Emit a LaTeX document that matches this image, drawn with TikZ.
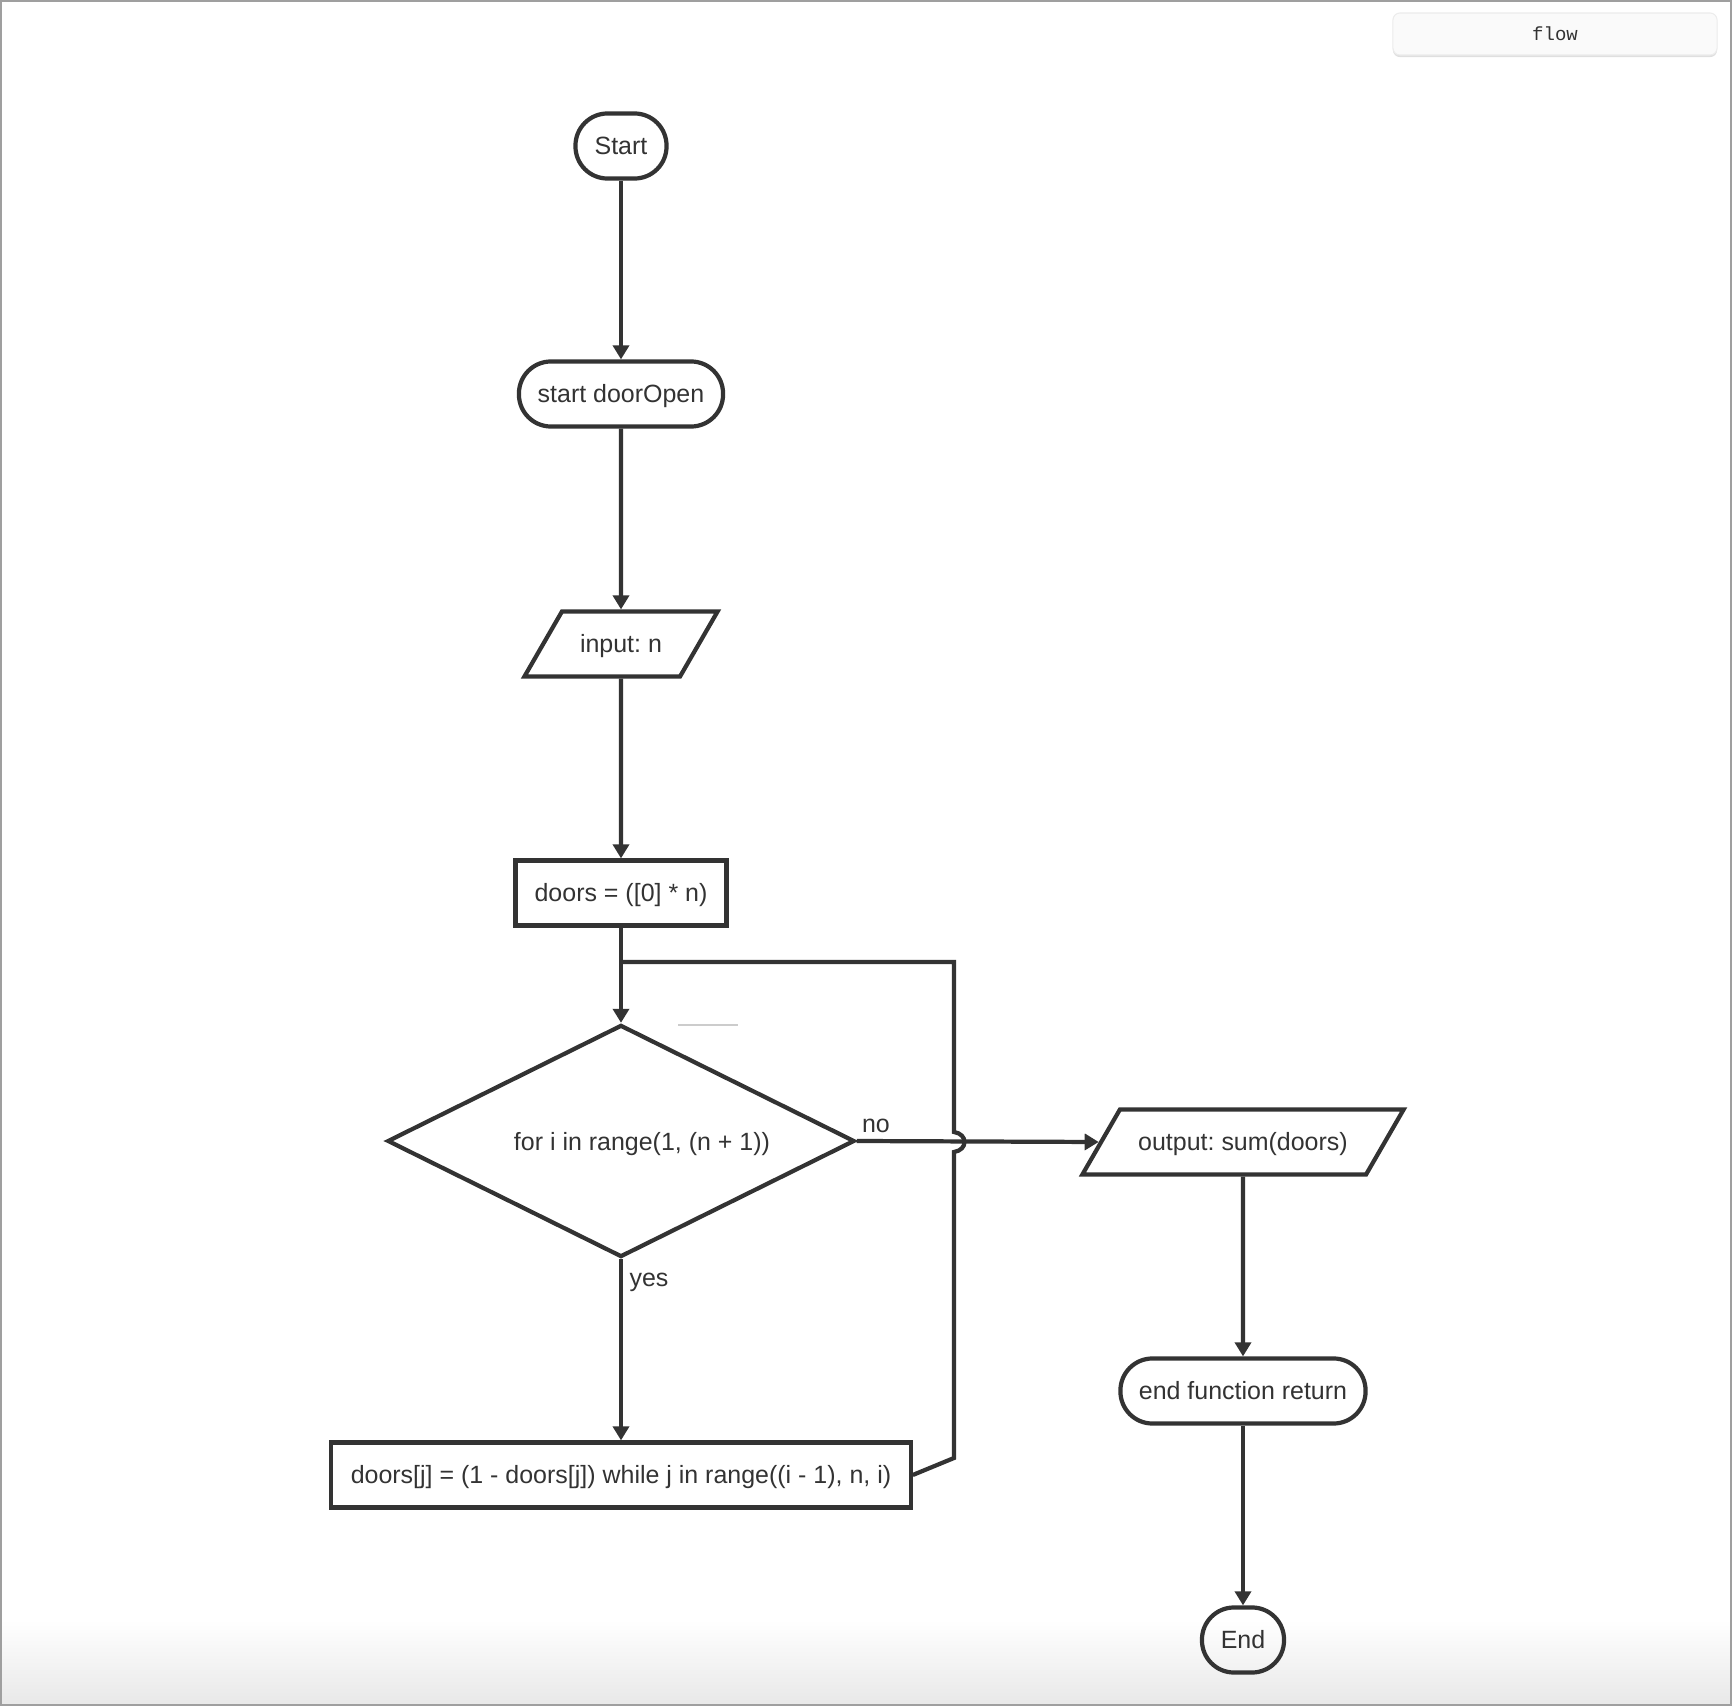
\documentclass[tikz,border=0pt]{standalone}
\usepackage{fontspec}
\setmainfont{Liberation Sans}
\setmonofont{Liberation Mono}
\usetikzlibrary{arrows.meta,shapes.geometric,shadows}
\frenchspacing
\definecolor{ink}{HTML}{333333}
\tikzset{
  every node/.style={text=ink, font=\fontsize{7.1pt}{8.5pt}\selectfont,
    text height=5.1pt, text depth=0pt},
  box/.style={draw=ink, line width=1.2pt, rectangle, minimum height=0.65cm, inner sep=0},
  term/.style={box, rounded corners=0.32cm},
  io/.style={draw=ink, line width=1.2pt, trapezium, trapezium left angle=60,
    trapezium right angle=120, trapezium stretches body, inner xsep=0, inner ysep=0.235cm},
  cond/.style={draw=ink, line width=1.2pt, diamond, shape aspect=2, minimum width=4.67cm,
    minimum height=2.32cm, inner sep=0},
  flowline/.style={draw=ink, line width=1.2pt, -{Triangle[length=0.14cm,width=0.16cm]}},
  btn/.style={rectangle, rounded corners=2pt, fill=gray!4, draw=gray!15, line width=0.3pt,
    minimum width=3.24cm, minimum height=0.42cm, inner sep=0, text height=3.9pt,
    drop shadow={shadow xshift=0pt, shadow yshift=-0.6pt, opacity=0.25},
    font=\ttfamily\fontsize{5.4pt}{6pt}\selectfont}
}
\begin{document}
\begin{tikzpicture}[x=0.01cm, y=-0.01cm]
  \useasboundingbox (0,0) rectangle (1732,1706);
  \shade[top color=white, bottom color=gray!18] (1,1620) rectangle (1731,1705);
  \draw[gray!75, line width=0.45pt] (1,1) rectangle (1731,1705);

  \node[btn] (tab) at (1555,34) {flow};

  \node[term, minimum width=0.91cm] (start) at (621,146) {Start};
  \node[term, minimum width=2.04cm] (open) at (621,394) {start doorOpen};
  \node[io, minimum width=1.93cm] (inp) at (621,644) {input: n};
  \node[box, minimum width=2.11cm] (init) at (621,893) {doors = ([0] * n)};
  \node[cond] (loop) at (621,1141) {};
  \node (looptxt) at (642,1142) {for i in range(1, (n + 1))};
  \node[box, minimum width=5.79cm] (body) at (621,1475) {doors[j] = (1 - doors[j]) while j in range((i - 1), n, i)};
  \node[io, minimum width=3.21cm] (outp) at (1243,1142) {output: sum(doors)};
  \node[term, minimum width=2.45cm] (ret) at (1243,1391) {end function return};
  \node[term, minimum width=0.82cm] (stop) at (1243,1640) {End};

  \node (nolbl) at (876,1124) {no};
  \node (yeslbl) at (649,1278) {yes};
  \draw[gray!40, line width=0.4pt] (678,1025) -- (738,1025);

  \draw[flowline] (start) -- (open);
  \draw[flowline] (open) -- (inp);
  \draw[flowline] (inp) -- (init);
  \draw[flowline] (init) -- (loop);
  \draw[flowline] (loop) -- (body);
  \draw[flowline] (loop.east) -- (outp.west);
  \draw[flowline] (outp) -- (ret);
  \draw[flowline] (ret) -- (stop);

  \coordinate (bend) at (954,1458);
  \coordinate (back) at (954,962);
  \coordinate (join) at (init.south |- back);
  \draw[ink, line width=1.2pt] (body.east) -- (bend) -- (954,1152)
    .. controls (968,1150) and (968,1134) .. (954,1132) -- (back) -- (join);
\end{tikzpicture}
\end{document}
